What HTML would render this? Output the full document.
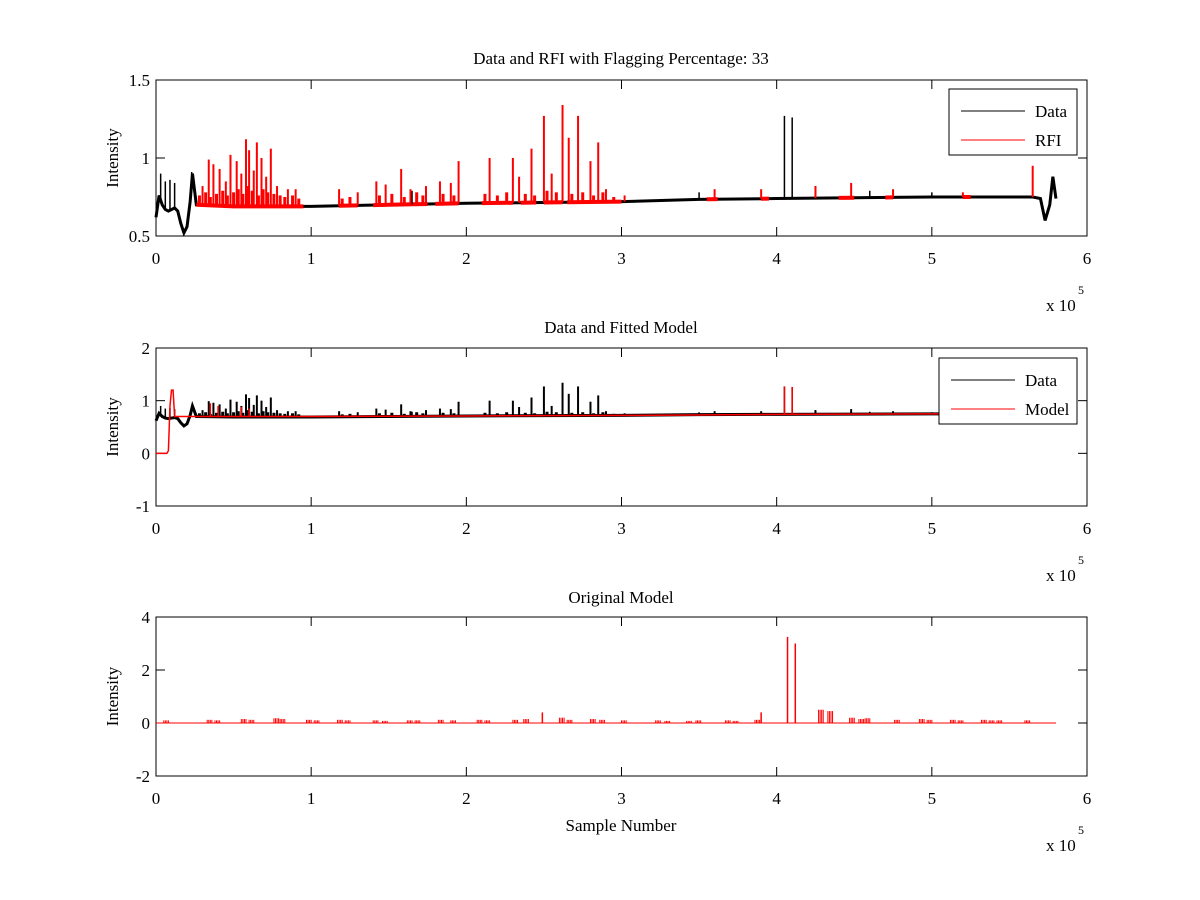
<!DOCTYPE html>
<html><head><meta charset="utf-8"><style>
html,body{margin:0;padding:0;background:#fff;}
svg{display:block;font-family:"Liberation Serif",serif;}
</style></head><body>
<svg id="fig" width="1200" height="900" viewBox="0 0 1200 900"></svg>
<script>
// ---------- data (x in units of 1e5 samples) ----------
const baseX = [0,0.02,0.04,0.06,0.08,0.1,0.12,0.14,0.16,0.18,0.2,0.22,0.235,0.26,0.5,1,1.5,2,2.5,3,3.5,4,4.5,5,5.5,5.65,5.7,5.73,5.76,5.78,5.8];
const baseY = [0.62,0.76,0.70,0.67,0.66,0.67,0.68,0.66,0.58,0.52,0.56,0.72,0.90,0.70,0.69,0.69,0.70,0.71,0.715,0.72,0.735,0.74,0.745,0.75,0.75,0.75,0.74,0.60,0.70,0.88,0.74];
const rfiRanges = [[0.26,0.95],[1.18,1.3],[1.4,1.75],[1.8,1.95],[2.1,2.3],[2.35,2.45],[2.5,2.62],[2.65,3.0],[3.55,3.62],[3.9,3.95],[4.4,4.5],[4.7,4.75],[5.2,5.25]];
const rfiPos = [0.3,0.34,0.37,0.41,0.45,0.48,0.52,0.55,0.58,0.6,0.63,0.65,0.68,0.71,0.74,0.78,0.85,0.9,1.18,1.3,1.42,1.48,1.58,1.64,1.74,1.83,1.9,1.95,2.15,2.3,2.34,2.42,2.5,2.55,2.62,2.66,2.72,2.8,2.85,2.9,3.02,3.6,3.9,4.25,4.48,4.75,5.2,5.65];
const rfiVal = [0.82,0.99,0.96,0.93,0.85,1.02,0.98,0.90,1.12,1.05,0.92,1.10,1.0,0.88,1.06,0.82,0.80,0.80,0.80,0.78,0.85,0.83,0.93,0.80,0.82,0.85,0.84,0.98,1.0,1.0,0.88,1.06,1.27,0.9,1.34,1.13,1.27,0.98,1.1,0.80,0.76,0.80,0.80,0.82,0.84,0.80,0.78,0.95];
const minorPos = [0.28,0.32,0.35,0.39,0.43,0.46,0.5,0.53,0.56,0.59,0.62,0.66,0.69,0.72,0.76,0.8,0.83,0.88,0.92,1.2,1.25,1.44,1.52,1.6,1.68,1.72,1.85,1.92,2.12,2.2,2.26,2.38,2.44,2.52,2.58,2.68,2.75,2.82,2.88,2.95];
const minorVal = [0.76,0.78,0.75,0.77,0.79,0.76,0.78,0.80,0.77,0.82,0.79,0.76,0.80,0.78,0.77,0.76,0.75,0.76,0.74,0.74,0.75,0.76,0.77,0.75,0.78,0.76,0.77,0.76,0.77,0.76,0.78,0.77,0.76,0.79,0.78,0.77,0.78,0.76,0.78,0.75];
const blkPos = [0.03,0.06,0.09,0.12,0.23,1.65,3.5,4.05,4.1,4.25,4.6,5.0];
const blkVal = [0.90,0.85,0.86,0.84,0.91,0.79,0.78,1.27,1.26,0.82,0.79,0.78];
const modelX = [0,0.07,0.08,0.09,0.1,0.11,0.12,0.3,1,2,3,4,5,5.8];
const modelY = [0,0,0.05,0.9,1.2,1.2,0.70,0.70,0.70,0.71,0.72,0.74,0.75,0.76];
const modelSpkPos = [0.35,0.4,0.55,0.6,4.05,4.1];
const modelSpkVal = [0.95,0.9,0.88,0.85,1.27,1.26];
const origClusters = [0.05,0.33,0.38,0.55,0.6,0.76,0.8,0.97,1.02,1.17,1.22,1.4,1.46,1.62,1.67,1.82,1.9,2.07,2.12,2.3,2.37,2.6,2.65,2.8,2.86,3.0,3.22,3.28,3.42,3.48,3.67,3.72,3.86,4.27,4.33,4.47,4.53,4.57,4.76,4.92,4.97,5.12,5.17,5.32,5.37,5.42,5.6];
const origClusterVal = [0.1,0.12,0.1,0.15,0.12,0.18,0.15,0.12,0.1,0.12,0.1,0.1,0.08,0.1,0.1,0.12,0.1,0.12,0.1,0.12,0.15,0.2,0.12,0.15,0.12,0.1,0.1,0.08,0.08,0.1,0.1,0.08,0.12,0.5,0.45,0.2,0.15,0.18,0.12,0.15,0.12,0.12,0.1,0.12,0.1,0.1,0.1];
const origBigPos = [2.49,3.9,4.07,4.12];
const origBigVal = [0.4,0.4,3.25,3.0];
const xTicks = [0,1,2,3,4,5,6];

// ---------- drawing ----------
const NS = "http://www.w3.org/2000/svg";
const svg = document.getElementById('fig');
function mk(tag, attrs, parent){const e=document.createElementNS(NS,tag);for(const k in attrs)e.setAttribute(k,attrs[k]);(parent||svg).appendChild(e);return e;}
const X0=156, X1=1087;
const sx = v => X0 + v*(X1-X0)/6;
function panel(name, top, bot, ymin, ymax, yticks, title, titleY){
  const g = mk('g',{});
  
  
  const sy = v => bot - (v-ymin)*(bot-top)/(ymax-ymin);
  const frame = mk('rect',{x:X0,y:top,width:X1-X0,height:bot-top,fill:'#fff',stroke:'#000','stroke-width':1},g);
  
  
  xTicks.forEach(t=>{
    const x=sx(t);
    mk('line',{x1:x,y1:bot,x2:x,y2:bot-9,stroke:'#000'},g);
    mk('line',{x1:x,y1:top,x2:x,y2:top+9,stroke:'#000'},g);
    const tx=mk('text',{x:x,y:bot+28,'font-size':17,'text-anchor':'middle'},g);
    tx.textContent=t;
    
    
  });
  yticks.forEach(t=>{
    const y=sy(t);
    mk('line',{x1:X0,y1:y,x2:X0+9,y2:y,stroke:'#000'},g);
    mk('line',{x1:X1,y1:y,x2:X1-9,y2:y,stroke:'#000'},g);
    const ty=mk('text',{x:X0-6,y:y+6,'font-size':17,'text-anchor':'end'},g);
    ty.textContent=t;
    
    
  });
  const tt=mk('text',{x:621,y:titleY,'font-size':17,'text-anchor':'middle'},g);
  tt.textContent=title;
  
  
  const yl=mk('text',{x:0,y:0,'font-size':17,'text-anchor':'middle',transform:`translate(${X0-38},${(top+bot)/2}) rotate(-90)`},g);
  yl.textContent='Intensity';
  
  
  const ex=mk('text',{x:1046,y:bot+75,'font-size':17},g);
  ex.textContent='x 10';
  
  
  const e5=mk('text',{x:1078,y:bot+58,'font-size':12},g);
  e5.textContent='5';
  return {g, sy};
}
function baseAt(x){
  for(let i=1;i<baseX.length;i++){ if(x<=baseX[i]){const t=(x-baseX[i-1])/(baseX[i]-baseX[i-1]);return baseY[i-1]+t*(baseY[i]-baseY[i-1]);} }
  return baseY[baseY.length-1];
}
function poly(g, xs, ys, sy, color, w, name){
  const p=mk('polyline',{points:xs.map((x,i)=>sx(x)+','+sy(ys[i])).join(' '),fill:'none',stroke:color,'stroke-width':w},g);
  
  
}
function spikes(g, pos, val, sy, color, name, baseFn, w){
  pos.forEach((p,i)=>{
    const x=sx(p);
    const l=mk('line',{x1:x,y1:sy(baseFn(p)),x2:x,y2:sy(val[i]),stroke:color,'stroke-width':w||1.5},g);
    
    
  });
}
function legend(g, x, y, w, h, items){
  const lg=mk('g',{},g);
  
  
  mk('rect',{x:x,y:y,width:w,height:h,fill:'#fff',stroke:'#000'},lg);
  items.forEach((it,i)=>{
    const yy=y+22+i*29;
    mk('line',{x1:x+12,y1:yy,x2:x+76,y2:yy,stroke:it[1]},lg);
    const t=mk('text',{x:x+86,y:yy+6,'font-size':17},lg);
    t.textContent=it[0];
    
    
  });
}

// Panel 1
const p1=panel('rfi-panel',80,236,0.5,1.5,[0.5,1,1.5],'Data and RFI with Flagging Percentage: 33',64);
poly(p1.g, baseX, baseY, p1.sy, '#000', 3, 'data-line');
rfiRanges.forEach(r=>{
  const xs=[r[0]]; baseX.forEach(b=>{if(b>r[0]&&b<r[1])xs.push(b);}); xs.push(r[1]);
  poly(p1.g, xs, xs.map(baseAt), p1.sy, '#f00', 4, 'rfi-line');
});
spikes(p1.g, blkPos, blkVal, p1.sy, '#000', 'data-spike', baseAt);
spikes(p1.g, minorPos, minorVal, p1.sy, '#f00', 'rfi-spike', baseAt, 3);
spikes(p1.g, rfiPos, rfiVal, p1.sy, '#f00', 'rfi-spike', baseAt, 2);
legend(p1.g, 949, 89, 128, 66, [['Data','#000'],['RFI','#f00']]);

// Panel 2
const p2=panel('model-panel',348,506,-1,2,[-1,0,1,2],'Data and Fitted Model',333);
poly(p2.g, baseX, baseY, p2.sy, '#000', 3, 'data-line');
spikes(p2.g, blkPos, blkVal, p2.sy, '#000', 'data-spike', baseAt);
spikes(p2.g, minorPos, minorVal, p2.sy, '#000', 'data-spike', baseAt, 3);
spikes(p2.g, rfiPos, rfiVal, p2.sy, '#000', 'data-spike', baseAt, 2);
poly(p2.g, modelX, modelY, p2.sy, '#f00', 1.5, 'model-line');
spikes(p2.g, modelSpkPos, modelSpkVal, p2.sy, '#f00', 'model-spike', baseAt);
legend(p2.g, 939, 358, 138, 66, [['Data','#000'],['Model','#f00']]);

// Panel 3
const p3=panel('original-panel',617,776,-2,4,[-2,0,2,4],'Original Model',603);
poly(p3.g, [0,5.8], [0,0], p3.sy, '#f00', 1, 'original-model-line');
const clusterPos=[], clusterVal=[];
origClusters.forEach((c,i)=>{ [0,0.01,0.02,0.03].forEach(d=>{clusterPos.push(c+d);clusterVal.push(origClusterVal[i]);}); });
spikes(p3.g, clusterPos, clusterVal, p3.sy, '#f00', 'original-model-spike', ()=>0, 1);
spikes(p3.g, origBigPos, origBigVal, p3.sy, '#f00', 'original-model-spike', ()=>0);
const xl=mk('text',{x:621,y:831,'font-size':17,'text-anchor':'middle'});
xl.textContent='Sample Number';


</script>
</body></html>
